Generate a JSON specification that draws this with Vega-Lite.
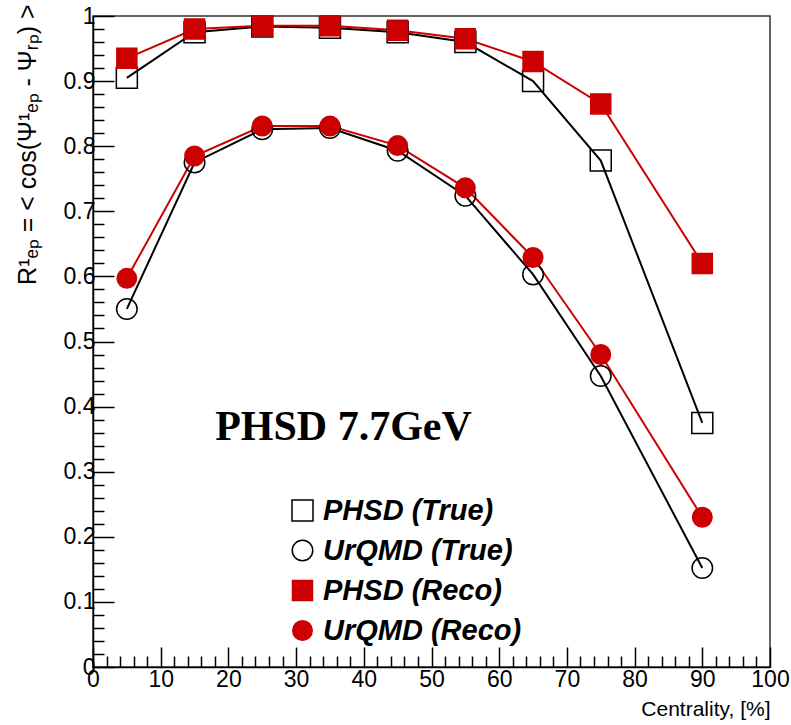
{
  "$schema": "https://vega.github.io/schema/vega-lite/v6.json",
  "autosize": "none",
  "width": 677,
  "height": 651,
  "padding": {"left": 93, "top": 16, "right": 21, "bottom": 58},
  "background": "white",
  "config": {
    "view": {"stroke": "#333", "strokeWidth": 1.5},
    "font": "Liberation Sans",
    "axis": {"grid": false, "domainColor": "#000", "domainWidth": 1.5, "tickColor": "#000", "tickWidth": 1.5, "labelColor": "#000", "titleColor": "#000", "labelFont": "Liberation Sans", "titleFont": "Liberation Sans", "labelFontSize": 23, "titleFontSize": 21, "titleFontWeight": "normal"},
    "legend": {"orient": "none", "legendX": 195, "legendY": 480, "labelFont": "Liberation Sans", "labelFontSize": 29, "labelFontWeight": "bold", "labelFontStyle": "italic", "labelColor": "#000", "labelLimit": 400, "rowPadding": 10, "labelOffset": 6, "symbolStrokeWidth": 1.5, "symbolOpacity": 1}
  },
  "data": {
    "values": [
      {"c": 5, "r": 0.905, "s": "PHSD (True)"},
      {"c": 15, "r": 0.975, "s": "PHSD (True)"},
      {"c": 25, "r": 0.984, "s": "PHSD (True)"},
      {"c": 35, "r": 0.982, "s": "PHSD (True)"},
      {"c": 45, "r": 0.975, "s": "PHSD (True)"},
      {"c": 55, "r": 0.960, "s": "PHSD (True)"},
      {"c": 65, "r": 0.900, "s": "PHSD (True)"},
      {"c": 75, "r": 0.778, "s": "PHSD (True)"},
      {"c": 90, "r": 0.375, "s": "PHSD (True)"},
      {"c": 5, "r": 0.550, "s": "UrQMD (True)"},
      {"c": 15, "r": 0.775, "s": "UrQMD (True)"},
      {"c": 25, "r": 0.826, "s": "UrQMD (True)"},
      {"c": 35, "r": 0.828, "s": "UrQMD (True)"},
      {"c": 45, "r": 0.793, "s": "UrQMD (True)"},
      {"c": 55, "r": 0.724, "s": "UrQMD (True)"},
      {"c": 65, "r": 0.603, "s": "UrQMD (True)"},
      {"c": 75, "r": 0.447, "s": "UrQMD (True)"},
      {"c": 90, "r": 0.152, "s": "UrQMD (True)"},
      {"c": 5, "r": 0.935, "s": "PHSD (Reco)"},
      {"c": 15, "r": 0.980, "s": "PHSD (Reco)"},
      {"c": 25, "r": 0.985, "s": "PHSD (Reco)"},
      {"c": 35, "r": 0.985, "s": "PHSD (Reco)"},
      {"c": 45, "r": 0.978, "s": "PHSD (Reco)"},
      {"c": 55, "r": 0.965, "s": "PHSD (Reco)"},
      {"c": 65, "r": 0.930, "s": "PHSD (Reco)"},
      {"c": 75, "r": 0.865, "s": "PHSD (Reco)"},
      {"c": 90, "r": 0.620, "s": "PHSD (Reco)"},
      {"c": 5, "r": 0.597, "s": "UrQMD (Reco)"},
      {"c": 15, "r": 0.785, "s": "UrQMD (Reco)"},
      {"c": 25, "r": 0.831, "s": "UrQMD (Reco)"},
      {"c": 35, "r": 0.831, "s": "UrQMD (Reco)"},
      {"c": 45, "r": 0.801, "s": "UrQMD (Reco)"},
      {"c": 55, "r": 0.736, "s": "UrQMD (Reco)"},
      {"c": 65, "r": 0.629, "s": "UrQMD (Reco)"},
      {"c": 75, "r": 0.480, "s": "UrQMD (Reco)"},
      {"c": 90, "r": 0.230, "s": "UrQMD (Reco)"}
    ]
  },
  "encoding": {
    "x": {
      "field": "c", "type": "quantitative",
      "scale": {"domain": [0, 100], "nice": false, "zero": false},
      "axis": {
        "title": "Centrality, [%]",
        "titleAnchor": "end", "titleAlign": "right", "titlePadding": -2,
        "values": [0,2,4,6,8,10,12,14,16,18,20,22,24,26,28,30,32,34,36,38,40,42,44,46,48,50,52,54,56,58,60,62,64,66,68,70,72,74,76,78,80,82,84,86,88,90,92,94,96,98,100],
        "labelExpr": "datum.value % 10 == 0 ? toString(datum.value) : ''",
        "tickSize": {"condition": {"test": "datum.value % 10 == 0", "value": -20}, "value": -11},
        "labelPadding": 21,
        "labelFlush": false,
        "labelOverlap": false
      }
    },
    "y": {
      "field": "r", "type": "quantitative",
      "scale": {"domain": [0, 1], "nice": false, "zero": false},
      "axis": {
        "title": "R¹ₑₚ = < cos(Ψ¹ₑₚ - Ψᵣₚ) >",
        "titleFontSize": 25,
        "titleAnchor": "end", "titleAlign": "right", "titleBaseline": "middle",
        "titleX": -66, "titleY": -12,
        "values": [0,0.02,0.04,0.06,0.08,0.1,0.12,0.14,0.16,0.18,0.2,0.22,0.24,0.26,0.28,0.3,0.32,0.34,0.36,0.38,0.4,0.42,0.44,0.46,0.48,0.5,0.52,0.54,0.56,0.58,0.6,0.62,0.64,0.66,0.68,0.7,0.72,0.74,0.76,0.78,0.8,0.82,0.84,0.86,0.88,0.9,0.92,0.94,0.96,0.98,1],
        "labelExpr": "abs(datum.value*10 - round(datum.value*10)) < 0.001 ? toString(round(datum.value*10)/10) : ''",
        "tickSize": {"condition": {"test": "abs(datum.value*10 - round(datum.value*10)) < 0.001", "value": -21}, "value": -11},
        "labelPadding": 19,
        "labelFlush": false,
        "labelOverlap": false
      }
    }
  },
  "layer": [
    {
      "mark": {"type": "line", "strokeWidth": 2},
      "encoding": {
        "detail": {"field": "s", "type": "nominal"},
        "color": {"condition": {"test": "indexof(datum.s, 'Reco') >= 0", "value": "#cc0000"}, "value": "#000000"}
      }
    },
    {
      "mark": {"type": "point", "strokeWidth": 1.5, "opacity": 1},
      "encoding": {
        "shape": {
          "field": "s", "type": "nominal", "title": null,
          "scale": {"domain": ["PHSD (True)", "UrQMD (True)", "PHSD (Reco)", "UrQMD (Reco)"], "range": ["square", "circle", "square", "circle"]}
        },
        "fill": {
          "field": "s", "type": "nominal", "title": null,
          "scale": {"domain": ["PHSD (True)", "UrQMD (True)", "PHSD (Reco)", "UrQMD (Reco)"], "range": ["transparent", "transparent", "#cc0000", "#cc0000"]}
        },
        "stroke": {
          "field": "s", "type": "nominal", "title": null,
          "scale": {"domain": ["PHSD (True)", "UrQMD (True)", "PHSD (Reco)", "UrQMD (Reco)"], "range": ["#000000", "#000000", "#cc0000", "#cc0000"]}
        },
        "size": {
          "field": "s", "type": "nominal", "title": null,
          "scale": {"domain": ["PHSD (True)", "UrQMD (True)", "PHSD (Reco)", "UrQMD (Reco)"], "range": [441, 380, 441, 380]}
        }
      }
    },
    {
      "data": {"values": [{"label": "PHSD 7.7GeV", "x": 37, "y": 0.349}]},
      "mark": {"type": "text", "font": "Liberation Serif", "fontSize": 42, "fontWeight": "bold", "align": "center", "baseline": "alphabetic", "color": "#000"},
      "encoding": {
        "text": {"field": "label"},
        "x": {"field": "x", "type": "quantitative"},
        "y": {"field": "y", "type": "quantitative"}
      }
    }
  ]
}
